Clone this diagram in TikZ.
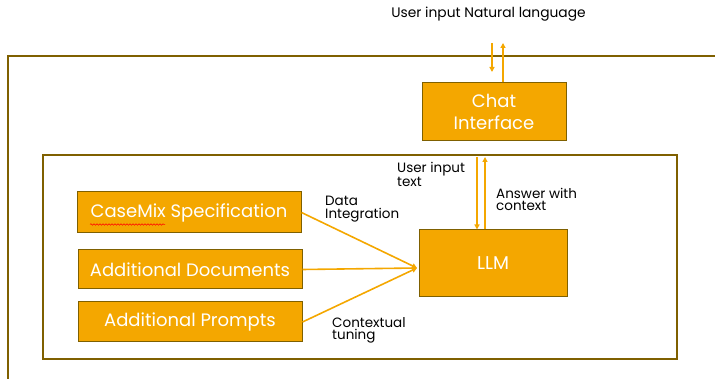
\documentclass[tikz,border=0pt]{standalone}
\usepackage{fontspec}
\setmainfont{Poppins}
\usetikzlibrary{arrows.meta,decorations.pathmorphing}
\definecolor{boxfill}{HTML}{F4A700}
\definecolor{boxedge}{HTML}{7F6000}
\definecolor{frameline}{HTML}{7F6000}
\definecolor{flow}{HTML}{F4A700}
\tikzset{
  block/.style={draw=boxedge, line width=1pt, fill=boxfill, text=white, inner sep=0pt, align=center},
  flowarrow/.style={draw=flow, line width=1.6pt, -{Triangle[length=5pt,width=5pt]}},
  note/.style={font=\fontsize{13.5}{12.5}\selectfont, align=left, inner sep=0pt, anchor=north west},
  frame/.style={draw=frameline, line width=1.3pt}
}
\begin{document}
\begin{tikzpicture}[x=1pt,y=-1pt]
\useasboundingbox (0,0) rectangle (715,379);

% outer and inner frames
\draw[frame] (8,381) -- (8,56) -- (717,56);
\draw[frame] (43,155) rectangle (677,359);

% heading
\node[font=\fontsize{13.8}{16}\selectfont, inner sep=0pt] (heading) at (488.5,14) {User input Natural language};

% blocks
\node[block, minimum width=144pt, minimum height=58pt, font=\fontsize{18}{22.5}\selectfont] (chat) at (494,112) {Chat\\Interface};
\node[block, minimum width=148pt, minimum height=67pt, font=\fontsize{18.5}{22}\selectfont] (llm) at (493,263.5) {LLM};
\node[block, minimum width=224pt, minimum height=41pt, font=\fontsize{18}{22}\selectfont] (casemix) at (189,212.5) {CaseMix Specification};
\node[block, minimum width=224pt, minimum height=39pt, font=\fontsize{18}{22}\selectfont] (docs) at (190,269.5) {Additional Documents};
\node[block, minimum width=224pt, minimum height=40pt, font=\fontsize{18}{22}\selectfont] (prompts) at (190,322) {Additional Prompts};

% spell-check squiggle under CaseMix
\draw[red, line width=0.5pt, decorate, decoration={snake, amplitude=0.8pt, segment length=3pt}] (90,224.5) -- (165,224.5);

% user input arrows above the chat interface
\coordinate (userin) at (492,43);
\coordinate (userout) at (503,43);
\draw[flowarrow] (userin) -- (492,72);
\draw[flowarrow] ([xshift=9pt]chat.north) -- (userout);

% chat interface <-> LLM
\coordinate (qtop) at (477,157);
\coordinate (atop) at (485,157);
\draw[flowarrow] (qtop) -- (llm.north -| qtop);
\draw[flowarrow] (llm.north -| atop) -- (atop);

% sources into the LLM
\coordinate (llmin) at (417,268);
\draw[flowarrow] (casemix.east) -- (llmin);
\draw[flowarrow] (docs.east) -- (llmin);
\draw[flowarrow] (prompts.east) -- (llmin);

% labels
\node[note] (lblq) at (397,162) {User input\\text};
\node[note] (lbla) at (496,188) {Answer with\\context};
\node[note] (lbld) at (325,196) {Data\\Integration};
\node[note] (lblc) at (332,317) {Contextual\\tuning};
\end{tikzpicture}
\end{document}
